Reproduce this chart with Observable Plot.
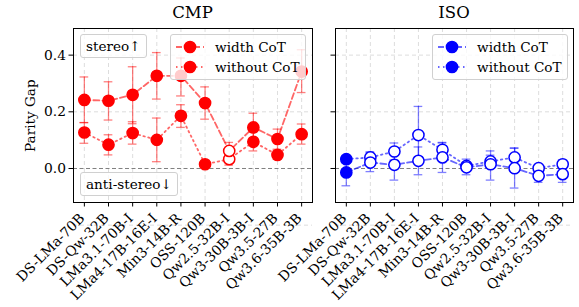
<!DOCTYPE html>
<html>
<head>
<meta charset="utf-8">
<script src="https://cdn.jsdelivr.net/npm/d3@7"></script>
<script src="https://cdn.jsdelivr.net/npm/@observablehq/plot@0.6"></script>
<style>
  body { margin: 0; background: white; }
  #wrap { position: relative; width: 579px; height: 307px; font-family: "DejaVu Serif", serif; color: #000; }
  #wrap > div.abs { position: absolute; }
  .title { font-size: 16.5px; text-align: center; white-space: nowrap; }
  .box { background: rgba(255,255,255,0.8); border: 1px solid #d0d0d0; border-radius: 3px; font-size: 13.6px; white-space: nowrap; box-sizing: border-box; }
  .row { display: flex; align-items: center; height: 20px; }
  .row svg { margin-right: 10px; }
</style>
</head>
<body>
<div id="wrap"></div>
<script>
const models = ["DS-LMa-70B","DS-Qw-32B","LMa3.1-70B-I","LMa4-17B-16E-I","Min3-14B-R","OSS-120B","Qw2.5-32B-I","Qw3-30B-3B-I","Qw3.5-27B","Qw3.6-35B-3B"];

// CMP
const cmpCot   = [0.242,0.239,0.260,0.327,0.327,0.231,0.062,0.145,0.104,0.342];
const cmpCotLo = [0.162,0.171,0.158,0.245,0.256,0.174,0.035,0.098,0.068,0.268];
const cmpCotHi = [0.323,0.306,0.359,0.409,0.390,0.288,0.092,0.195,0.139,0.419];
const cmpNo    = [0.127,0.084,0.125,0.101,0.186,0.015,0.033,0.094,0.048,0.121];
const cmpNoLo  = [0.089,0.048,0.086,0.024,0.145,0.005,0.012,0.062,0.032,0.086];
const cmpNoHi  = [0.162,0.119,0.165,0.178,0.225,0.025,0.055,0.128,0.064,0.157];
const cmpFilled = [true,true,true,true,true,true,false,true,true,true];

// ISO
const isoCot   = [-0.014,0.021,0.013,0.027,0.039,0.004,0.015,0.001,-0.026,-0.020];
const isoCotLo = [-0.061,-0.011,-0.041,-0.022,-0.014,-0.022,-0.041,-0.069,-0.049,-0.049];
const isoCotHi = [0.030,0.056,0.067,0.076,0.092,0.033,0.062,0.072,0.000,0.010];
const isoNo    = [0.033,0.039,0.060,0.118,0.066,0.009,0.025,0.039,0.001,0.015];
const isoNoLo  = [0.020,0.020,0.030,0.017,0.042,-0.004,0.003,0.006,-0.012,0.000];
const isoNoHi  = [0.046,0.059,0.090,0.219,0.090,0.022,0.047,0.072,0.014,0.030];
const isoFilled = [true,false,false,false,false,false,false,false,false,false];

const yTicks = [0.0, 0.2, 0.4];
const legendLabels = ["width CoT", "without CoT"];

function rows(vals, lo, hi, filled) {
  return vals.map((v, i) => ({i, v, lo: lo[i], hi: hi[i], filled: filled[i]}));
}

function panel({cot, no, color, width, marginLeft, marginRight, showY}) {
  const cap = 0.18;
  const errMarks = (data) => [
    Plot.ruleX(data, {x: "i", y1: "lo", y2: "hi", stroke: color, strokeOpacity: 0.5, strokeWidth: 1.3}),
    Plot.ruleY(data, {y: "lo", x1: d => d.i - cap, x2: d => d.i + cap, stroke: color, strokeOpacity: 0.5, strokeWidth: 1.3}),
    Plot.ruleY(data, {y: "hi", x1: d => d.i - cap, x2: d => d.i + cap, stroke: color, strokeOpacity: 0.5, strokeWidth: 1.3})
  ];
  const dots = (data) => Plot.dot(data, {x: "i", y: "v", r: 5.6, fill: d => d.filled ? color : "white", stroke: color, strokeWidth: 1.5});
  const idx = d3.range(models.length);
  return Plot.plot({
    width, height: 307,
    marginTop: 28, marginBottom: 105, marginLeft, marginRight,
    style: {fontFamily: "DejaVu Serif", fontSize: "13.6px", background: "transparent", overflow: "visible", color: "black"},
    x: {type: "linear", domain: [-0.45, 9.45]},
    y: {domain: [-0.12, 0.494]},
    marks: [
      Plot.ruleX(idx, {stroke: "#b0b0b0", strokeOpacity: 0.55, strokeDasharray: "4,3", strokeWidth: 0.8}),
      Plot.ruleY([-0.2, 0.2, 0.4], {stroke: "#b0b0b0", strokeOpacity: 0.55, strokeDasharray: "4,3", strokeWidth: 0.8}),
      Plot.ruleY([0], {stroke: "#808080", strokeDasharray: "4,2.5", strokeWidth: 1}),
      ...errMarks(no),
      ...errMarks(cot),
      Plot.line(no, {x: "i", y: "v", stroke: color, strokeOpacity: 0.6, strokeWidth: 1.8, strokeDasharray: "1.5,3.5"}),
      Plot.line(cot, {x: "i", y: "v", stroke: color, strokeOpacity: 0.6, strokeWidth: 1.8, strokeDasharray: "6,3"}),
      dots(no),
      dots(cot),
      Plot.axisX(idx, {tickFormat: () => "", tickSize: 4.5, label: null}),
      Plot.axisX(idx, {tickFormat: i => models[i], tickRotate: -45, tickSize: 0, tickPadding: 13.5, label: null, fontSize: 13.8, dx: -2}),
      Plot.axisY(yTicks, {tickFormat: showY ? d3.format(".1f") : () => "", tickSize: 4.5, tickPadding: 3, label: null, fontSize: 13.8}),
      Plot.frame({stroke: "black", strokeWidth: 1})
    ]
  });
}

const wrap = document.getElementById("wrap");

function place(el, left, top) {
  const d = document.createElement("div");
  d.className = "abs";
  d.style.left = left + "px";
  d.style.top = top + "px";
  d.appendChild(el);
  wrap.appendChild(d);
  return d;
}

const p1 = panel({cot: rows(cmpCot, cmpCotLo, cmpCotHi, cmpFilled), no: rows(cmpNo, cmpNoLo, cmpNoHi, cmpFilled), color: "#ff0000", width: 320, marginLeft: 73, marginRight: 8, showY: true});
const p2 = panel({cot: rows(isoCot, isoCotLo, isoCotHi, isoFilled), no: rows(isoNo, isoNoLo, isoNoHi, isoFilled), color: "#0000ff", width: 259, marginLeft: 15, marginRight: 6, showY: false});
place(p1, 0, 0);
place(p2, 320, 0);

function html(str) { const t = document.createElement("div"); t.innerHTML = str; return t.firstElementChild; }

// titles
const t1 = place(html('<div class="title">CMP</div>'), 73, 3); t1.firstElementChild.style.width = "239px";
const t2 = place(html('<div class="title">ISO</div>'), 335, 3); t2.firstElementChild.style.width = "238px";

// y label
place(html('<div style="font-size:13.6px;white-space:nowrap;transform:rotate(-90deg);transform-origin:0 0;">Parity Gap</div>'), 22, 152);

function legendRow(color, dash, label) {
  return `<div class="row"><svg width="30" height="14"><line x1="1" y1="7" x2="29" y2="7" stroke="${color}" stroke-opacity="0.6" stroke-width="1.8" stroke-dasharray="${dash}"/><circle cx="15" cy="7" r="5.6" fill="${color}" stroke="${color}" stroke-width="1.5"/></svg><span>${label}</span></div>`;
}
function legend(color) {
  return html(`<div class="box" style="padding:2px 5px 2px 4px;">${legendRow(color, "6,3", legendLabels[0])}${legendRow(color, "1.5,3.5", legendLabels[1])}</div>`);
}
place(legend("#ff0000"), 170, 34);
place(legend("#0000ff"), 432, 34);

place(html('<div class="box" style="padding:3px 5px;">stereo↑</div>'), 80, 34);
place(html('<div class="box" style="padding:3px 5px;">anti-stereo↓</div>'), 80, 172);
</script>
</body>
</html>
